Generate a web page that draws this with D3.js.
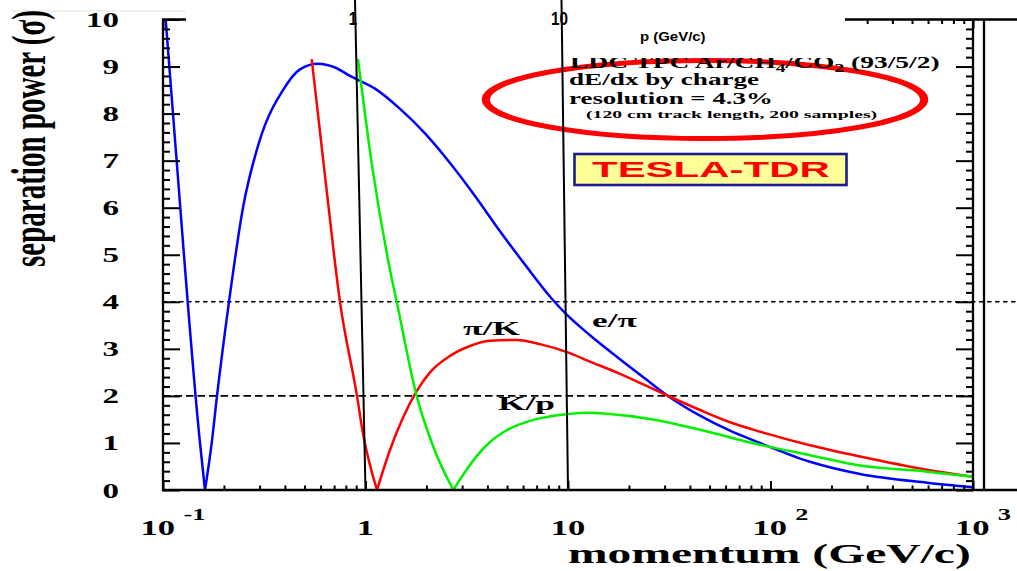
<!DOCTYPE html>
<html>
<head>
<meta charset="utf-8">
<script src="https://cdn.jsdelivr.net/npm/d3@7"></script>
<style>
  html, body { margin: 0; padding: 0; background: #fff; }
  svg { display: block; }
</style>
</head>
<body>
<svg id="chart" width="1017" height="571"></svg>
<script>
// ---- data: momentum (GeV/c) and separation power (sigma) ----
const ePiMomentum = [0.1031, 0.1146, 0.1523, 0.1612, 0.174, 0.1848, 0.2118, 0.2483, 0.3013, 0.3914, 0.4747, 0.5823, 0.7071, 0.8385, 1.114, 1.481, 1.967, 2.614, 3.473, 4.615, 6.133, 8.337, 9.886, 12.84, 18.06, 24.0, 31.17, 44.86, 63.1, 88.76, 156.7, 276.7, 592.7, 1000];
const ePiSigma    = [10.0, 7.45, 1.0, 0, 1.0, 2.0, 4.0, 6.0, 7.45, 8.5, 8.94, 9.06, 8.98, 8.80, 8.53, 8.10, 7.58, 6.95, 6.25, 5.50, 4.79, 4.06, 3.72, 3.29, 2.78, 2.37, 2.00, 1.58, 1.26, 1.0, 0.60, 0.34, 0.155, 0.06];

const piKMomentum = [0.5423, 0.6379, 0.7482, 0.9078, 0.9721, 1.1397, 1.321, 1.537, 1.789, 2.082, 2.614, 3.281, 4.119, 5.6, 7.273, 9.886, 12.84, 18.06, 31.17, 44.86, 63.1, 88.76, 156.7, 276.7, 592.7, 1000];
const piKSigma    = [9.16, 6.5, 4.0, 2.0, 1.2, 0, 0.85, 1.55, 2.1, 2.5, 2.85, 3.06, 3.17, 3.19, 3.10, 2.93, 2.73, 2.47, 2.0, 1.70, 1.44, 1.24, 0.95, 0.71, 0.43, 0.28];

const kPMomentum  = [0.918, 1.077, 1.347, 1.426, 1.789, 2.161, 2.714, 3.041, 3.541, 4.119, 4.98, 6.492, 9.81, 12.84, 15.53, 26.29, 44.86, 88.76, 156.7, 276.7, 592.7, 1000];
const kPSigma     = [9.16, 6.9, 4.5, 4.0, 2.0, 0.92, 0, 0.33, 0.72, 1.02, 1.27, 1.47, 1.61, 1.64, 1.62, 1.50, 1.28, 0.96, 0.74, 0.52, 0.39, 0.28];

const seriesNames  = ["e/\u03c0", "\u03c0/K", "K/p"];
const seriesColors = ["#0000ff", "#ff0000", "#00f000"];

// reference levels (dashed)
const referenceLevels = [4, 2];

// axis ticks
const yTickValues = [0, 1, 2, 3, 4, 5, 6, 7, 8, 9, 10];
const xDecades    = [0.1, 1, 10, 100, 1000];
const xDecadeBase = ["10", "1", "10", "10", "10"];
const xDecadeExp  = ["-1", "", "", "2", "3"];

// overlaid momentum markers
const markerMomentum = [1, 10];
const markerLabels   = ["1", "10"];

// annotation text
const gasLine   = ["LDC TPC Ar/CH", "4", "/CO", "2", " (93/5/2)"];
const infoLines = ["dE/dx by charge", "resolution = 4.3%", "(120 cm track length, 200 samples)"];
const badgeText = "TESLA-TDR";

// ---- setup ----
const W = 1017, H = 571;
const plot = { left: 163, right: 973, top: 19.5, bottom: 490 };
const serif = "'Liberation Serif','Times New Roman',Times,serif";
const sans  = "'Liberation Sans',Arial,Helvetica,sans-serif";

const svg = d3.select("#chart");

const xScale = d3.scaleLog().domain([0.1, 1000]).range([plot.left, plot.right]);
const yScale = d3.scaleLinear().domain([0, 10]).range([plot.bottom, plot.top]);

// Text stretched horizontally to span [x0, x1], or scaled by a fixed factor
function wideText(parent, o) {
  const g = parent.append("g");
  const t = g.append("text")
    .attr("font-family", o.family || serif)
    .attr("font-weight", o.weight || "bold")
    .attr("font-size", o.size)
    .attr("fill", o.fill || "#000");
  (o.parts || [{ text: o.text }]).forEach(p => {
    const ts = t.append("tspan").text(p.text);
    if (p.size) ts.attr("font-size", p.size);
    if (p.dy) ts.attr("dy", p.dy);
    if (p.dx) ts.attr("dx", p.dx);
  });
  const bb = t.node().getBBox();
  let s, tx;
  if (o.x1 !== undefined) {
    s = (o.x1 - o.x0) / bb.width;
    tx = o.x0 - bb.x * s;
  } else {
    s = o.scale || 1;
    if (o.anchor === "end") tx = o.x - (bb.x + bb.width) * s;
    else if (o.anchor === "middle") tx = o.x - (bb.x + bb.width / 2) * s;
    else tx = o.x - bb.x * s;
  }
  g.attr("transform", `translate(${tx},${o.y}) scale(${s},1)`);
  return g;
}

// faint rule above the frame
svg.append("path").attr("d", "M12,11H186").attr("stroke", "#e4e4e4").attr("stroke-width", 1);

// ---- dashed reference levels ----
svg.append("path").attr("d", `M${plot.left},${yScale(referenceLevels[0])}H${W}`)
  .attr("stroke", "#000").attr("stroke-width", 1.6).attr("stroke-dasharray", "4.5,3.5");
svg.append("path").attr("d", `M${plot.left},${yScale(referenceLevels[1])}H${plot.right}`)
  .attr("stroke", "#000").attr("stroke-width", 1.6).attr("stroke-dasharray", "7.5,4");

// ---- separation curves ----
// split at the zero crossings so the minima stay sharp
function branches(ps, vs) {
  const pts = ps.map((p, i) => [p, vs[i]]);
  const out = [];
  let cur = [];
  pts.forEach((d, i) => {
    cur.push(d);
    if (d[1] === 0 && i > 0 && i < pts.length - 1) { out.push(cur); cur = [d]; }
  });
  out.push(cur);
  return out;
}
const curveLine = d3.line().x(d => xScale(d[0])).y(d => yScale(d[1])).curve(d3.curveMonotoneX);
const allSeries = [[ePiMomentum, ePiSigma], [piKMomentum, piKSigma], [kPMomentum, kPSigma]];
const curves = svg.append("g");
allSeries.forEach(([ps, vs], i) => {
  branches(ps, vs).forEach(b => {
    curves.append("path").attr("d", curveLine(b)).attr("fill", "none")
      .attr("stroke", seriesColors[i]).attr("stroke-width", 2.5)
      .attr("stroke-linejoin", "round");
  });
});

// ---- axes: inward major and minor ticks on all four sides ----
const minorY = d3.range(0, 50).map(i => i / 5).filter(v => !Number.isInteger(v));
const minorX = xScale.ticks().filter(v => !xDecades.some(d => Math.abs(d - v) / d < 1e-6));

function drawAxis(axis, tx, ty) {
  svg.append("g")
    .attr("transform", `translate(${tx},${ty})`)
    .call(axis.tickFormat(() => "").tickSizeOuter(0))
    .call(g => {
      g.select(".domain").remove();
      g.selectAll(".tick line").attr("stroke", "#000").attr("stroke-width", 2);
    });
}
drawAxis(d3.axisRight(yScale).tickValues(yTickValues).tickSize(17), plot.left, 0);
drawAxis(d3.axisRight(yScale).tickValues(minorY).tickSize(7), plot.left, 0);
drawAxis(d3.axisLeft(yScale).tickValues(yTickValues).tickSize(17), plot.right, 0);
drawAxis(d3.axisLeft(yScale).tickValues(minorY).tickSize(7), plot.right, 0);
drawAxis(d3.axisTop(xScale).tickValues(xDecades).tickSize(9), 0, plot.bottom);
drawAxis(d3.axisTop(xScale).tickValues(minorX).tickSize(4.5), 0, plot.bottom);
drawAxis(d3.axisBottom(xScale).tickValues(xDecades).tickSize(9), 0, plot.top);
drawAxis(d3.axisBottom(xScale).tickValues(minorX).tickSize(4.5), 0, plot.top);

// frame, plus the neighbouring panel edge on the right
svg.append("path")
  .attr("d", `M${plot.left},${plot.top}V${plot.bottom}H${plot.right}V${plot.top}Z` +
             `M984,${plot.top}V${plot.bottom}M${plot.right},${plot.top}H${W}M${plot.right},${plot.bottom}H${W}`)
  .attr("fill", "none").attr("stroke", "#000").attr("stroke-width", 2.3);

// ---- curve labels ----
wideText(svg, { x0: 592, x1: 637, y: 327, size: 18, text: seriesNames[0] });
wideText(svg, { x0: 463, x1: 520, y: 335, size: 18, text: seriesNames[1] });
wideText(svg, { x0: 498, x1: 555, y: 410, size: 18, text: seriesNames[2] });

// ---- highlight ellipse ----
svg.append("g").attr("transform", "translate(705,99.5) scale(1.6,1)")
  .append("ellipse").attr("rx", 137).attr("ry", 39)
  .attr("fill", "none").attr("stroke", "#ff0000").attr("stroke-width", 5);

// ---- annotation block ----
wideText(svg, {
  x0: 570, x1: 940, y: 68, size: 17,
  parts: [
    { text: gasLine[0] }, { text: gasLine[1], size: 12, dy: 4 },
    { text: gasLine[2], dy: -4 }, { text: gasLine[3], size: 12, dy: 4 },
    { text: gasLine[4], dy: -4 }
  ]
});
wideText(svg, { x0: 569, x1: 760, y: 85, size: 17, text: infoLines[0] });
wideText(svg, { x0: 569, x1: 773, y: 104, size: 17, text: infoLines[1] });
wideText(svg, { x0: 586, x1: 878, y: 118, size: 11, text: infoLines[2] });

// badge
svg.append("rect").attr("x", 574.5).attr("y", 154).attr("width", 272).attr("height", 31)
  .attr("fill", "#ffff99").attr("stroke", "#1c1c8a").attr("stroke-width", 2.6);
wideText(svg, { x0: 592, x1: 830, y: 177, size: 22, family: sans, fill: "#ff0000", text: badgeText });

// ---- axis tick labels ----
yTickValues.forEach(v => {
  wideText(svg, { x: 119, y: yScale(v) + 7.5, size: 20, scale: 1.65, anchor: "end", text: String(v) });
});
xDecades.forEach((d, i) => {
  const parts = [{ text: xDecadeBase[i] }];
  if (xDecadeExp[i]) parts.push({ text: xDecadeExp[i], size: 16, dy: -15, dx: 5 });
  wideText(svg, {
    x: xScale(d) + (xDecadeExp[i] ? 10 : 0), y: 535, size: 21, scale: 1.65, anchor: "middle", parts
  });
});

// ---- axis titles ----
wideText(svg, { x0: 568, x1: 971, y: 563, size: 28, text: "momentum (GeV/c)" });

(function () {
  const g = svg.append("g");
  const t = g.append("text").attr("font-family", serif).attr("font-weight", "bold")
    .attr("font-size", 29).attr("text-anchor", "middle").text("separation power (\u03c3)");
  const w = t.node().getBBox().width;
  g.attr("transform", `translate(45,138.5) scale(1.7,${257 / w}) rotate(-90)`);
})();

// ---- overlaid momentum scale (upper panel) ----
svg.append("rect").attr("x", 186).attr("y", 0).attr("width", 845 - 186).attr("height", 58).attr("fill", "#fff");
const xMarker = d3.scaleLog().domain([1, 10]).range([355, 561.5]);
markerMomentum.forEach((p, i) => {
  svg.append("path")
    .attr("d", `M${xMarker(p)},0L${xScale(p)},${plot.bottom}`)
    .attr("stroke", "#000").attr("stroke-width", 2);
  wideText(svg, { x: xMarker(p) - 2, y: 25, size: 18, scale: 0.85, anchor: "middle", family: sans, text: markerLabels[i] });
});
wideText(svg, { x: 640, y: 41, size: 13, scale: 1.15, family: sans, text: "p (GeV/c)" });
</script>
</body>
</html>
